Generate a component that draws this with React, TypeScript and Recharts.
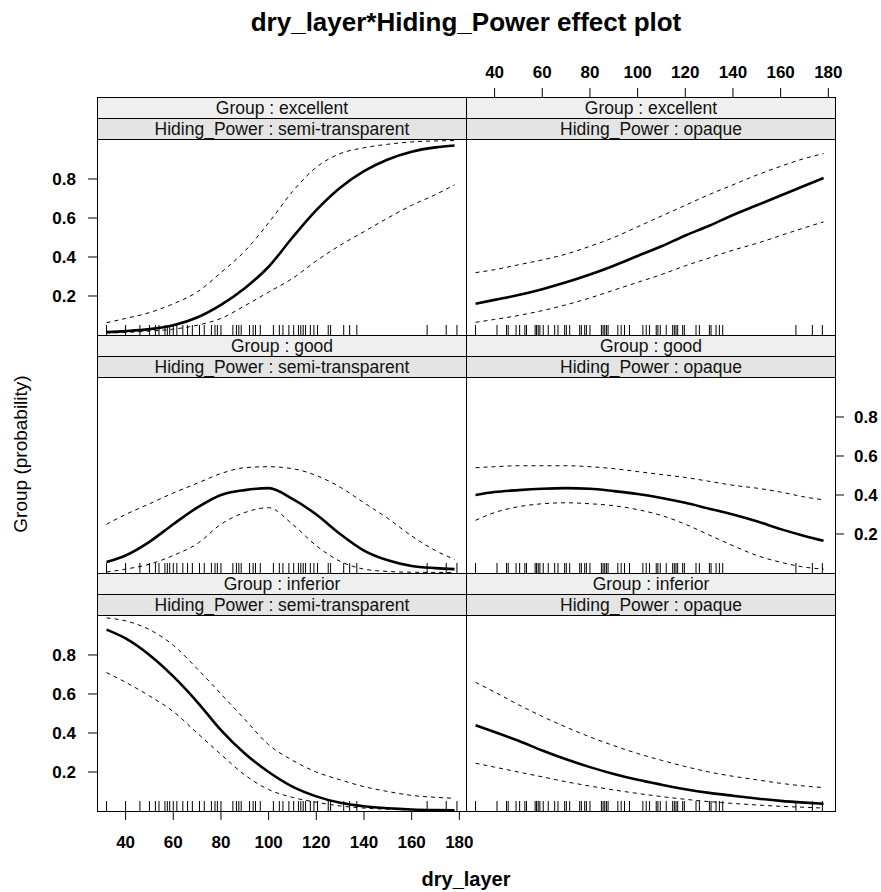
import React from 'react';
import { ComposedChart, Line, Scatter, XAxis, YAxis } from 'recharts';

// ---------------- data ----------------
const dryLayer = [32, 40, 50, 60, 70, 80, 90, 100, 110, 120, 130, 140, 150, 160, 170, 178];
const xTicks = [40, 60, 80, 100, 120, 140, 160, 180];
const yTicks = [0.2, 0.4, 0.6, 0.8];
const groups = ['excellent', 'good', 'inferior'];
const hidingPower = ['semi-transparent', 'opaque'];

// rug of observed dry_layer values
const semiRug = [32, 40, 46, 50, 52.5, 54, 56.5, 57.5, 58.5, 60, 61.5, 64, 66, 68, 71, 73, 76, 77.5, 78.5, 80,
  85, 86.5, 87.5, 88.5, 92, 93.5, 94.5, 96.5, 102, 104.5, 106, 108.5, 110.5, 112.5, 113.5, 114.5, 115.5,
  117.5, 119, 120.5, 125, 126, 131.5, 134, 137, 166.5, 174.5, 179];
const opaqueRug = [32, 41, 45, 45.7, 49, 50.5, 52.7, 53.4, 57, 57.6, 58.3, 59, 60.4, 62.5, 65.2, 66.6, 69.4, 70.1,
  71.5, 75.7, 76.4, 77.8, 78.5, 80, 84.8, 85.5, 86.2, 86.9, 87.6, 91.7, 93.1, 94.5, 96.6, 102.2, 103.6, 105,
  107.8, 108.5, 109.5, 112, 114.7, 115.4, 116.1, 116.8, 118.9, 119.6, 124.5, 125.9, 130.1, 130.8, 132.9,
  134.3, 135.7, 166.4, 173.3, 177.5];

// Group : excellent, semi-transparent
const excSemiFit = [0.015, 0.02, 0.03, 0.05, 0.09, 0.155, 0.24, 0.35, 0.5, 0.64, 0.755, 0.84, 0.9, 0.94, 0.962, 0.972];
const excSemiUpper = [0.063, 0.085, 0.115, 0.16, 0.22, 0.32, 0.43, 0.575, 0.735, 0.86, 0.93, 0.96, 0.978, 0.99, 0.995, 0.997];
const excSemiLower = [0.01, 0.013, 0.02, 0.03, 0.05, 0.085, 0.15, 0.22, 0.29, 0.38, 0.46, 0.53, 0.6, 0.665, 0.72, 0.77];
// Group : excellent, opaque
const excOpqFit = [0.16, 0.18, 0.205, 0.235, 0.27, 0.31, 0.355, 0.405, 0.455, 0.51, 0.56, 0.615, 0.665, 0.715, 0.765, 0.805];
const excOpqUpper = [0.32, 0.335, 0.36, 0.385, 0.415, 0.455, 0.5, 0.555, 0.61, 0.665, 0.72, 0.77, 0.82, 0.865, 0.905, 0.93];
const excOpqLower = [0.065, 0.08, 0.1, 0.125, 0.155, 0.19, 0.23, 0.27, 0.31, 0.355, 0.395, 0.435, 0.47, 0.51, 0.55, 0.58];
// Group : good, semi-transparent
const goodSemiFit = [0.056, 0.09, 0.16, 0.25, 0.335, 0.4, 0.425, 0.435, 0.38, 0.3, 0.2, 0.115, 0.065, 0.036, 0.025, 0.02];
const goodSemiUpper = [0.25, 0.3, 0.355, 0.41, 0.46, 0.51, 0.54, 0.545, 0.535, 0.5, 0.44, 0.36, 0.28, 0.19, 0.115, 0.07];
const goodSemiLower = [0.005, 0.02, 0.045, 0.09, 0.15, 0.25, 0.31, 0.335, 0.25, 0.14, 0.06, 0.02, 0.008, 0.004, 0.003, 0.002];
// Group : good, opaque
const goodOpqFit = [0.4, 0.415, 0.425, 0.432, 0.435, 0.432, 0.42, 0.405, 0.385, 0.36, 0.33, 0.3, 0.265, 0.225, 0.19, 0.165];
const goodOpqUpper = [0.54, 0.545, 0.55, 0.55, 0.55, 0.545, 0.535, 0.52, 0.505, 0.49, 0.47, 0.45, 0.435, 0.415, 0.39, 0.375];
const goodOpqLower = [0.27, 0.31, 0.34, 0.355, 0.36, 0.355, 0.345, 0.325, 0.295, 0.25, 0.195, 0.14, 0.09, 0.055, 0.03, 0.02];
// Group : inferior, semi-transparent
const infSemiFit = [0.93, 0.885, 0.8, 0.69, 0.56, 0.415, 0.295, 0.2, 0.125, 0.075, 0.042, 0.024, 0.014, 0.008, 0.005, 0.004];
const infSemiUpper = [0.99, 0.975, 0.93, 0.85, 0.73, 0.6, 0.47, 0.34, 0.26, 0.2, 0.16, 0.125, 0.1, 0.08, 0.07, 0.065];
const infSemiLower = [0.71, 0.66, 0.59, 0.51, 0.4, 0.29, 0.185, 0.11, 0.07, 0.045, 0.026, 0.015, 0.009, 0.006, 0.004, 0.003];
// Group : inferior, opaque
const infOpqFit = [0.44, 0.405, 0.36, 0.31, 0.265, 0.225, 0.19, 0.16, 0.135, 0.112, 0.093, 0.078, 0.064, 0.052, 0.043, 0.037];
const infOpqUpper = [0.66, 0.61, 0.545, 0.485, 0.43, 0.38, 0.335, 0.295, 0.26, 0.228, 0.2, 0.178, 0.16, 0.142, 0.128, 0.12];
const infOpqLower = [0.245, 0.225, 0.2, 0.175, 0.15, 0.128, 0.108, 0.09, 0.074, 0.06, 0.048, 0.039, 0.031, 0.024, 0.019, 0.015];

// ---------------- layout ----------------
const FONT = "'Liberation Sans', Arial, Helvetica, sans-serif";
const X_DOMAIN: [number, number] = [28, 182.8];
const Y_DOMAIN: [number, number] = [0, 1.005];
const COL_X = [97, 466];
const ROW_T = [97, 335, 573];
const PW = 369;
const PH = 196;
const STRIP = 21;
const ML = 60;
const MR = 60;
const MT = 10;
const MB = 50;

const tickFont = { fontSize: 17, fontWeight: 'bold', fill: '#000', fontFamily: FONT };

const build = (fit: number[], upper: number[], lower: number[]) =>
  dryLayer.map((x, i) => ({ x, fit: fit[i], upper: upper[i], lower: lower[i] }));

const panels = [
  [build(excSemiFit, excSemiUpper, excSemiLower), build(excOpqFit, excOpqUpper, excOpqLower)],
  [build(goodSemiFit, goodSemiUpper, goodSemiLower), build(goodOpqFit, goodOpqUpper, goodOpqLower)],
  [build(infSemiFit, infSemiUpper, infSemiLower), build(infOpqFit, infOpqUpper, infOpqLower)],
];
const rugs = [semiRug, opaqueRug].map((r) => r.map((x) => ({ x, y: 0 })));

const RugTick = (props: any) => {
  const { cx, cy } = props;
  if (cx == null || cy == null) return <g />;
  return <line x1={cx} x2={cx} y1={cy} y2={cy - 10} stroke="#000" strokeWidth={1} />;
};

type Mode = 'none' | 'ticks' | 'labels';

function PanelChart({ col, row }: { col: number; row: number }) {
  const x0 = COL_X[col];
  const y0 = ROW_T[row] + 2 * STRIP;
  const leftMode: Mode = col === 0 ? (row === 1 ? 'ticks' : 'labels') : 'none';
  const rightMode: Mode = col === 1 ? (row === 1 ? 'labels' : 'ticks') : 'none';
  const bottomMode: Mode = row === 2 ? (col === 0 ? 'labels' : 'ticks') : 'none';
  const data = panels[row][col];
  const tl = (m: Mode) => (m === 'none' ? false : { stroke: '#000', strokeWidth: 1 });
  const tk = (m: Mode) => (m === 'labels' ? tickFont : false);
  return (
    <div style={{ position: 'absolute', left: x0 - ML, top: y0 - MT }}>
      <ComposedChart width={PW + ML + MR} height={PH + MT + MB} margin={{ top: MT, right: 0, bottom: 0, left: 0 }}>
        <XAxis
          xAxisId="b"
          dataKey="x"
          type="number"
          domain={X_DOMAIN}
          ticks={xTicks}
          orientation="bottom"
          height={MB}
          axisLine={false}
          tickLine={tl(bottomMode) as any}
          tick={tk(bottomMode) as any}
          tickSize={9}
          tickMargin={16}
          allowDataOverflow
          interval={0}
        />
        <YAxis
          yAxisId="l"
          type="number"
          domain={Y_DOMAIN}
          ticks={yTicks}
          orientation="left"
          width={ML}
          axisLine={false}
          tickLine={tl(leftMode) as any}
          tick={tk(leftMode) as any}
          tickSize={9}
          tickMargin={12}
          allowDataOverflow
          interval={0}
        />
        <YAxis
          yAxisId="r"
          type="number"
          domain={Y_DOMAIN}
          ticks={yTicks}
          orientation="right"
          width={MR}
          axisLine={false}
          tickLine={tl(rightMode) as any}
          tick={tk(rightMode) as any}
          tickSize={9}
          tickMargin={10}
          allowDataOverflow
          interval={0}
        />
        <Scatter
          xAxisId="b"
          yAxisId="l"
          data={rugs[col]}
          dataKey="y"
          shape={RugTick}
          isAnimationActive={false}
        />
        <Line xAxisId="b" yAxisId="l" data={data} dataKey="upper" type="monotone" stroke="#000"
          strokeWidth={1} strokeDasharray="4 4" dot={false} activeDot={false} isAnimationActive={false} />
        <Line xAxisId="b" yAxisId="l" data={data} dataKey="lower" type="monotone" stroke="#000"
          strokeWidth={1} strokeDasharray="4 4" dot={false} activeDot={false} isAnimationActive={false} />
        <Line xAxisId="b" yAxisId="l" data={data} dataKey="fit" type="monotone" stroke="#000"
          strokeWidth={2.6} dot={false} activeDot={false} isAnimationActive={false} />
      </ComposedChart>
    </div>
  );
}

function TopAxis({ col }: { col: number }) {
  const labels = col === 1;
  return (
    <div style={{ position: 'absolute', left: COL_X[col] - ML, top: ROW_T[0] - 50 }}>
      <ComposedChart width={PW + ML + MR} height={60} margin={{ top: 0, right: MR, bottom: 0, left: ML }}
        data={xTicks.map((x) => ({ x, y: 0 }))}>
        <XAxis
          dataKey="x"
          type="number"
          domain={X_DOMAIN}
          ticks={xTicks}
          orientation="top"
          height={50}
          axisLine={false}
          tickLine={{ stroke: '#000', strokeWidth: 1 }}
          tick={(labels ? tickFont : false) as any}
          tickSize={9}
          tickMargin={10}
          allowDataOverflow
          interval={0}
        />
        <YAxis hide type="number" domain={[0, 1]} />
      </ComposedChart>
    </div>
  );
}

const stripBase: React.CSSProperties = {
  position: 'absolute',
  boxSizing: 'border-box',
  border: '1px solid #000',
  width: PW + 1,
  height: STRIP + 1,
  textAlign: 'center',
  fontFamily: FONT,
  fontSize: 17.5,
  lineHeight: `${STRIP - 1}px`,
  color: '#111',
  whiteSpace: 'nowrap',
  overflow: 'hidden',
};

export default function App() {
  const cells: React.ReactNode[] = [];
  for (let r = 0; r < 3; r++) {
    for (let c = 0; c < 2; c++) {
      const x = COL_X[c];
      const t = ROW_T[r];
      cells.push(
        <div key={`s1-${r}-${c}`} style={{ ...stripBase, left: x, top: t, background: '#efefef' }}>
          {`Group : ${groups[r]}`}
        </div>,
      );
      cells.push(
        <div key={`s2-${r}-${c}`} style={{ ...stripBase, left: x, top: t + STRIP, background: '#e4e4e4' }}>
          {`Hiding_Power : ${hidingPower[c]}`}
        </div>,
      );
      cells.push(
        <div
          key={`p-${r}-${c}`}
          style={{
            position: 'absolute',
            boxSizing: 'border-box',
            border: '1px solid #000',
            left: x,
            top: t + 2 * STRIP,
            width: PW + 1,
            height: PH + 1,
            background: '#fff',
          }}
        />,
      );
    }
  }
  return (
    <div style={{ position: 'absolute', left: 0, top: 0, width: 881, height: 892, background: '#fff', overflow: 'hidden' }}>
      <svg width={881} height={892} style={{ position: 'absolute', left: 0, top: 0 }}>
        <text x={466} y={31} textAnchor="middle" fontFamily={FONT} fontWeight="bold" fontSize={26} fill="#000">
          dry_layer*Hiding_Power effect plot
        </text>
        <text x={466} y={886} textAnchor="middle" fontFamily={FONT} fontWeight="bold" fontSize={20} fill="#000">
          dry_layer
        </text>
        <text
          x={0}
          y={0}
          transform="translate(27,454) rotate(-90)"
          textAnchor="middle"
          fontFamily={FONT}
          fontSize={19}
          fill="#000"
        >
          Group (probability)
        </text>
      </svg>
      {cells}
      <TopAxis col={0} />
      <TopAxis col={1} />
      {[0, 1, 2].map((r) => [0, 1].map((c) => <PanelChart key={`pc-${r}-${c}`} col={c} row={r} />))}
    </div>
  );
}
